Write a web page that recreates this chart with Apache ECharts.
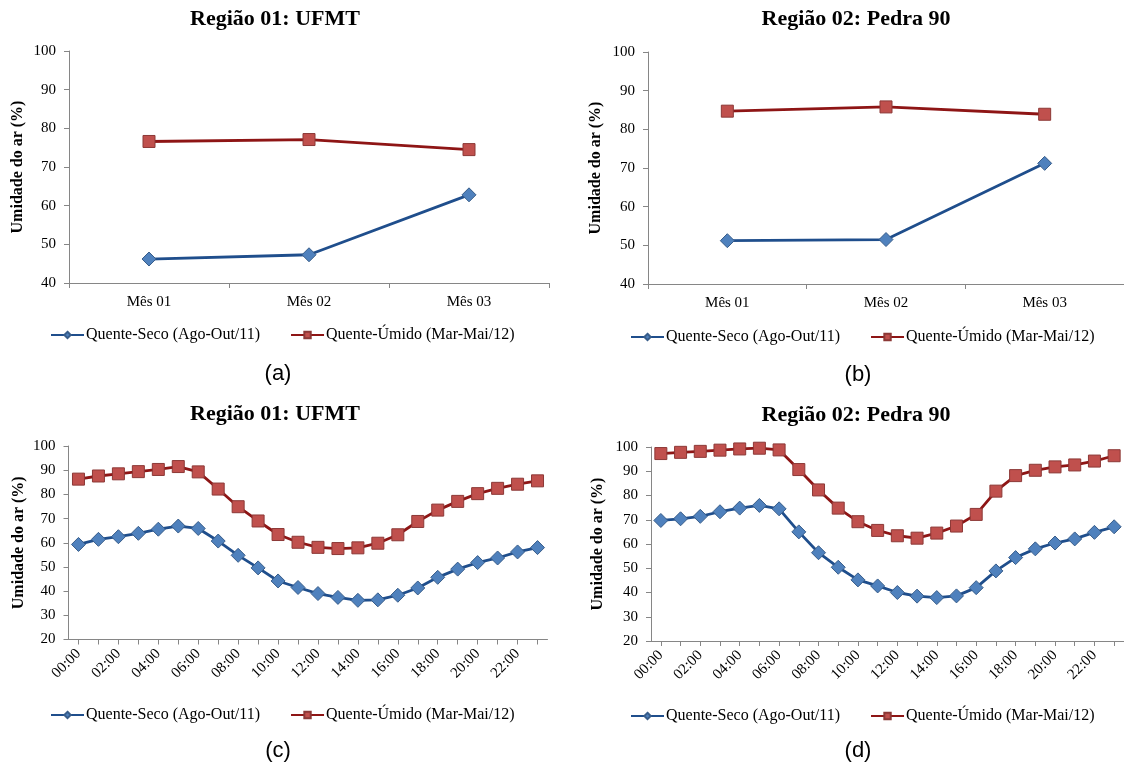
<!DOCTYPE html>
<html>
<head>
<meta charset="utf-8">
<script src="https://cdn.jsdelivr.net/npm/echarts@6/dist/echarts.min.js"></script>
<style>
html,body{margin:0;padding:0;background:#fff;overflow:hidden;}
#chart{width:1124px;height:767px;}
</style>
</head>
<body>
<div id="chart"></div>
<script>
// ---- Data ----
const months = ['Mês 01', 'Mês 02', 'Mês 03'];
const hours = ['00:00','01:00','02:00','03:00','04:00','05:00','06:00','07:00','08:00','09:00','10:00','11:00',
               '12:00','13:00','14:00','15:00','16:00','17:00','18:00','19:00','20:00','21:00','22:00','23:00'];

const seriesNames = ['Quente-Seco (Ago-Out/11)', 'Quente-Úmido (Mar-Mai/12)'];
const panelTitles = ['Região 01: UFMT', 'Região 02: Pedra 90', 'Região 01: UFMT', 'Região 02: Pedra 90'];
const captions = ['(a)', '(b)', '(c)', '(d)'];
const yAxisName = 'Umidade do ar (%)';

// Panel (a) – Região 01, monthly
const secoA  = [46.2, 47.3, 62.8];
const umidoA = [76.6, 77.1, 74.5];
// Panel (b) – Região 02, monthly
const secoB  = [51.2, 51.5, 71.2];
const umidoB = [84.7, 85.8, 83.9];
// Panel (c) – Região 01, hourly
const secoC  = [59.3, 61.4, 62.5, 63.9, 65.6, 66.9, 65.9, 60.7, 54.8, 49.6, 44.2, 41.5,
                39.0, 37.4, 36.2, 36.4, 38.3, 41.3, 45.7, 49.1, 51.8, 53.7, 56.2, 58.0];
const umidoC = [86.3, 87.6, 88.5, 89.4, 90.3, 91.5, 89.3, 82.2, 74.9, 69.0, 63.4, 60.2,
                58.1, 57.6, 57.9, 59.8, 63.3, 68.8, 73.5, 77.1, 80.3, 82.5, 84.2, 85.6];
// Panel (d) – Região 02, hourly
const secoD  = [69.7, 70.4, 71.4, 73.3, 74.8, 75.9, 74.5, 65.0, 56.4, 50.4, 45.2, 42.7,
                40.0, 38.5, 37.9, 38.6, 42.0, 48.9, 54.4, 58.0, 60.4, 62.1, 64.8, 67.1];
const umidoD = [97.3, 97.8, 98.2, 98.7, 99.2, 99.5, 98.8, 90.7, 82.3, 74.8, 69.2, 65.6,
                63.4, 62.4, 64.5, 67.4, 72.2, 81.8, 88.2, 90.4, 91.8, 92.6, 94.2, 96.4];

// ---- Styles ----
const SERIF = 'Liberation Serif';
const SANS = 'Liberation Sans';
const AXIS_COLOR = '#868686';
const BLUE_LINE = '#1F4E8C', BLUE_FILL = '#4F81BD', BLUE_BORDER = '#385D8A';
const RED_LINE = '#8E1515', RED_FILL = '#C0504D', RED_BORDER = '#8C3836';

const grids = [
  {left: 69,  top: 51,  width: 480, height: 232},
  {left: 648, top: 52,  width: 483, height: 232},
  {left: 68.5, top: 446, width: 479, height: 193.5},
  {left: 651, top: 447, width: 480, height: 194}
];
const nameGaps = [43, 44, 42, 45];

function xAxis(i, cats, hourly) {
  return {
    type: 'category', gridIndex: i, data: cats, boundaryGap: true,
    axisLine: {lineStyle: {color: AXIS_COLOR, width: 1}},
    axisTick: {show: true, length: 5, alignWithLabel: hourly, interval: 0, lineStyle: {color: AXIS_COLOR}},
    axisLabel: hourly
      ? {interval: 1, rotate: 45, fontFamily: SERIF, fontSize: 15, color: '#000', margin: 12}
      : {interval: 0, fontFamily: SERIF, fontSize: 15, color: '#000', margin: 12}
  };
}
function yAxis(i, min, max) {
  return {
    type: 'value', gridIndex: i, min: min, max: max, interval: 10,
    name: yAxisName, nameLocation: 'middle', nameGap: nameGaps[i],
    nameTextStyle: {fontFamily: SERIF, fontSize: 16, fontWeight: 'bold', color: '#000'},
    axisLine: {show: true, lineStyle: {color: AXIS_COLOR, width: 1}},
    axisTick: {show: true, length: 5, lineStyle: {color: AXIS_COLOR}},
    splitLine: {show: false},
    axisLabel: {fontFamily: SERIF, fontSize: 15, color: '#000', margin: 13}
  };
}
function lineSeries(i, name, data, isSeco) {
  return {
    type: 'line', name: name, xAxisIndex: i, yAxisIndex: i, data: data,
    symbol: isSeco ? 'diamond' : 'rect',
    symbolSize: isSeco ? 14 : 12,
    showAllSymbol: true,
    lineStyle: {color: isSeco ? BLUE_LINE : RED_LINE, width: 2.8},
    itemStyle: {color: isSeco ? BLUE_FILL : RED_FILL, borderColor: isSeco ? BLUE_BORDER : RED_BORDER, borderWidth: 1},
    emphasis: {disabled: true},
    animation: false, z: isSeco ? 3 : 2
  };
}
function legend(x, y) {
  return {
    data: seriesNames, left: x, top: y, orient: 'horizontal',
    itemWidth: 33, itemHeight: 8, itemGap: 30,
    textStyle: {fontFamily: SERIF, fontSize: 16, color: '#000', padding: [0, 0, 0, -3]},
    selectedMode: false
  };
}

const panelCenters = [275, 856, 275, 856];
const titleY = [19, 19, 414, 415];
const captionX = [278, 858, 278, 858];
const captionY = [374, 375, 751, 751];

const graphics = [];
for (let i = 0; i < 4; i++) {
  graphics.push({type: 'text', x: panelCenters[i], y: titleY[i], silent: true,
    style: {text: panelTitles[i], align: 'center', verticalAlign: 'middle',
            fontFamily: SERIF, fontSize: 22, fontWeight: 'bold', fill: '#000'}});
  graphics.push({type: 'text', x: captionX[i], y: captionY[i], silent: true,
    style: {text: captions[i], align: 'center', verticalAlign: 'middle',
            fontFamily: SANS, fontSize: 22, fill: '#000'}});
}

const option = {
  backgroundColor: '#fff',
  animation: false,
  textStyle: {fontFamily: SERIF},
  grid: grids,
  xAxis: [xAxis(0, months, false), xAxis(1, months, false), xAxis(2, hours, true), xAxis(3, hours, true)],
  yAxis: [yAxis(0, 40, 100), yAxis(1, 40, 100), yAxis(2, 20, 100), yAxis(3, 20, 100)],
  legend: [legend(45, 322), legend(625, 324), legend(45, 702), legend(625, 703)],
  graphic: graphics,
  series: [
    lineSeries(0, seriesNames[0], secoA, true),  lineSeries(0, seriesNames[1], umidoA, false),
    lineSeries(1, seriesNames[0], secoB, true),  lineSeries(1, seriesNames[1], umidoB, false),
    lineSeries(2, seriesNames[0], secoC, true),  lineSeries(2, seriesNames[1], umidoC, false),
    lineSeries(3, seriesNames[0], secoD, true),  lineSeries(3, seriesNames[1], umidoD, false)
  ]
};

const chart = echarts.init(document.getElementById('chart'), null, {renderer: 'canvas', width: 1124, height: 767});
chart.setOption(option);
</script>
</body>
</html>
